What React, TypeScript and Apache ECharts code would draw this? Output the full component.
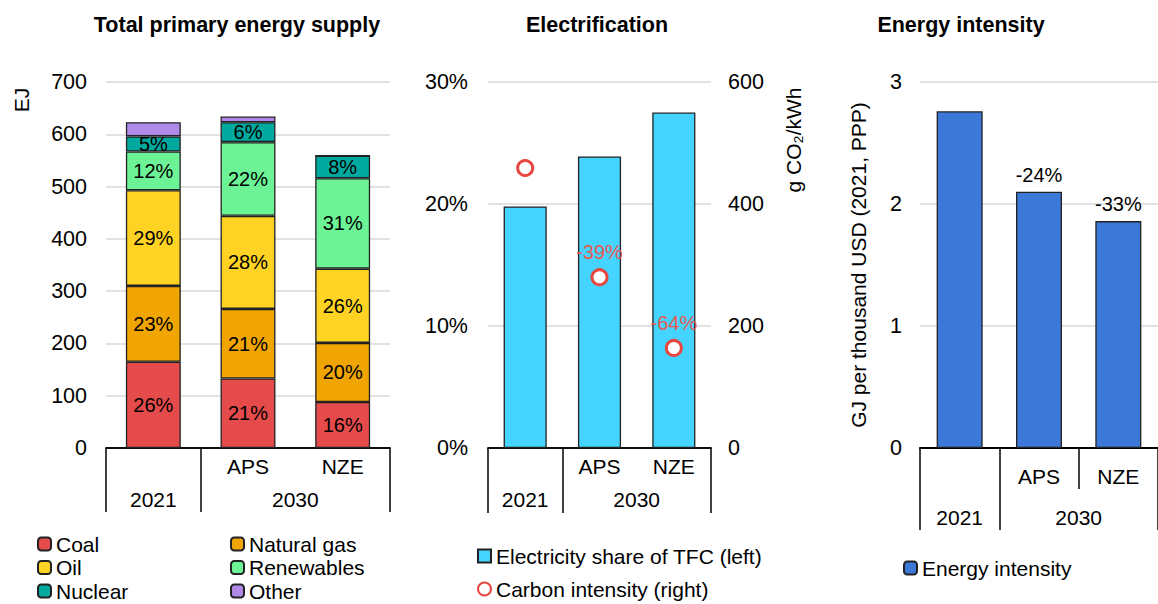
import React, { useEffect, useRef } from 'react';
import * as echarts from 'echarts';

// ---- Data ----
const scenarioLabels = ['', 'APS', 'NZE'];
const yearLabels = ['2021', '2030'];
const coal = [165, 133, 88];
const naturalGas = [145, 133, 113];
const oil = [183, 178, 142];
const renewables = [74, 141, 173];
const nuclear = [29, 38, 43];
const other = [27, 11, 0];
const coalPct = ['26%', '21%', '16%'];
const gasPct = ['23%', '21%', '20%'];
const oilPct = ['29%', '28%', '26%'];
const renPct = ['12%', '22%', '31%'];
const nucPct = ['5%', '6%', '8%'];
const electricityShare = [19.8, 23.9, 27.5];
const carbonIntensity = [459, 280, 164];
const carbonChange = ['', '-39%', '-64%'];
const energyIntensity = [2.76, 2.1, 1.86];
const intensityChange = ['', '-24%', '-33%'];

const FONT = 'Liberation Sans, Arial, sans-serif';
const FS = 21.5;      // ticks / titles
const FS_CAT = 21;    // category + legend
const FS_BAR = 20;    // labels in bars
const BORDER = '#222';
const GRID_LINE = '#d9d9d9';

function groupAxis(gridIndex: number, tickLen: number, labelMargin: number, ticks: number[], labels: number[]) {
  return {
    type: 'value',
    gridIndex,
    min: 0,
    max: 3,
    position: 'bottom',
    axisLine: { show: true, lineStyle: { color: '#000', width: 1.5 } },
    axisTick: { show: true, customValues: ticks, length: tickLen, inside: false, lineStyle: { color: '#000', width: 1.5 } },
    axisLabel: {
      show: labels.length > 0,
      customValues: labels,
      margin: labelMargin,
      color: '#000',
      fontSize: FS_CAT,
      fontFamily: FONT,
      formatter: (v: number) => (v < 1 ? yearLabels[0] : yearLabels[1]),
    },
    splitLine: { show: false },
  };
}

function scenarioAxis(gridIndex: number, margin: number) {
  return {
    type: 'category',
    gridIndex,
    data: scenarioLabels,
    axisLine: { show: true, lineStyle: { color: '#000', width: 1.5 } },
    axisTick: { show: false },
    axisLabel: { margin, color: '#000', fontSize: FS_CAT, fontFamily: FONT },
    splitLine: { show: false },
  };
}

function stackSeries(name: string, data: number[], color: string, labels: string[] | null) {
  return {
    name,
    type: 'bar',
    stack: 'tpes',
    xAxisIndex: 0,
    yAxisIndex: 0,
    barWidth: '58%',
    data,
    itemStyle: { color, borderColor: BORDER, borderWidth: 1.3 },
    label: labels
      ? {
          show: true,
          position: 'inside',
          color: '#000',
          fontSize: FS_BAR,
          fontFamily: FONT,
          formatter: (p: any) => labels[p.dataIndex],
        }
      : { show: false },
  };
}

const legendText = { color: '#000', fontSize: FS_CAT, fontFamily: FONT, lineHeight: 22 };

export default function App() {
  const ref = useRef<HTMLDivElement>(null);

  useEffect(() => {
    if (!ref.current) return;
    const chart = echarts.init(ref.current, null, { renderer: 'svg' });

    const yLabel = (margin: number, formatter?: any) => ({
      margin,
      color: '#000',
      fontSize: FS,
      fontFamily: FONT,
      formatter,
    });

    const option: any = {
      animation: false,
      backgroundColor: '#fff',
      textStyle: { fontFamily: FONT },
      grid: [
        { left: 106, top: 82, width: 284, height: 366 },
        { left: 488, top: 82, width: 223, height: 366 },
        { left: 920, top: 82, width: 242, height: 366 },
      ],
      xAxis: [
        scenarioAxis(0, 8),
        groupAxis(0, 64, 41, [0, 1, 3], [0.5, 2]),
        scenarioAxis(1, 8),
        groupAxis(1, 65, 41, [0, 1, 3], [0.5, 2]),
        scenarioAxis(2, 18),
        groupAxis(2, 82, 59, [0, 1, 3], [0.5, 2]),
        groupAxis(2, 41, 10, [2], []),
      ],
      yAxis: [
        {
          type: 'value', gridIndex: 0, min: 0, max: 700, interval: 100,
          axisLine: { show: false }, axisTick: { show: false },
          axisLabel: yLabel(19),
          splitLine: { show: true, lineStyle: { color: GRID_LINE, width: 1.5 } },
        },
        {
          type: 'value', gridIndex: 1, min: 0, max: 30, interval: 10,
          axisLine: { show: false }, axisTick: { show: false },
          axisLabel: yLabel(20, '{value}%'),
          splitLine: { show: true, lineStyle: { color: GRID_LINE, width: 1.5 } },
        },
        {
          type: 'value', gridIndex: 1, position: 'right', min: 0, max: 600, interval: 200,
          axisLine: { show: false }, axisTick: { show: false },
          axisLabel: yLabel(17),
          splitLine: { show: false },
        },
        {
          type: 'value', gridIndex: 2, min: 0, max: 3, interval: 1,
          axisLine: { show: false }, axisTick: { show: false },
          axisLabel: yLabel(18),
          splitLine: { show: true, lineStyle: { color: GRID_LINE, width: 1.5 } },
          name: 'GJ per thousand USD (2021, PPP)',
          nameLocation: 'middle',
          nameGap: 51,
          nameTextStyle: { color: '#000', fontSize: FS_CAT, fontFamily: FONT },
        },
      ],
      legend: [
        {
          orient: 'vertical', left: 37, top: 533, padding: 0, itemWidth: 13, itemHeight: 13, itemGap: 1.5,
          data: ['Coal', 'Oil', 'Nuclear'],
          textStyle: legendText,
        },
        {
          orient: 'vertical', left: 230, top: 533, padding: 0, itemWidth: 13, itemHeight: 13, itemGap: 1.5,
          data: ['Natural gas', 'Renewables', 'Other'],
          textStyle: legendText,
        },
        {
          orient: 'vertical', left: 477, top: 545, padding: 0, itemWidth: 13, itemHeight: 13, itemGap: 11,
          data: [
            { name: 'Electricity share of TFC (left)', icon: 'rect' },
            { name: 'Carbon intensity (right)', icon: 'circle' },
          ],
          textStyle: legendText,
        },
        {
          orient: 'vertical', left: 903, top: 557, padding: 0, itemWidth: 13, itemHeight: 13,
          data: ['Energy intensity'],
          textStyle: legendText,
        },
      ],
      graphic: [
        { type: 'text', x: 237, y: 25, style: { text: 'Total primary energy supply', font: `bold ${FS}px ${FONT}`, fill: '#000', textAlign: 'center', textVerticalAlign: 'middle' } },
        { type: 'text', x: 597, y: 25, style: { text: 'Electrification', font: `bold ${FS}px ${FONT}`, fill: '#000', textAlign: 'center', textVerticalAlign: 'middle' } },
        { type: 'text', x: 961, y: 25, style: { text: 'Energy intensity', font: `bold ${FS}px ${FONT}`, fill: '#000', textAlign: 'center', textVerticalAlign: 'middle' } },
        { type: 'text', x: 21, y: 100, rotation: Math.PI / 2, style: { text: 'EJ', font: `${FS_CAT}px ${FONT}`, fill: '#000', textAlign: 'center', textVerticalAlign: 'middle' } },
        { type: 'text', x: 793, y: 140, rotation: Math.PI / 2, style: { text: 'g CO₂/kWh', font: `${FS_CAT}px ${FONT}`, fill: '#000', textAlign: 'center', textVerticalAlign: 'middle' } },
      ],
      series: [
        stackSeries('Coal', coal, '#e54b4b', coalPct),
        stackSeries('Natural gas', naturalGas, '#f0a502', gasPct),
        stackSeries('Oil', oil, '#fed324', oilPct),
        stackSeries('Renewables', renewables, '#6bf395', renPct),
        stackSeries('Nuclear', nuclear, '#00a99d', nucPct),
        stackSeries('Other', other, '#b18ae9', null),
        {
          name: 'Electricity share of TFC (left)',
          type: 'bar',
          xAxisIndex: 2,
          yAxisIndex: 1,
          barWidth: '58%',
          data: electricityShare,
          itemStyle: { color: '#45d3ff', borderColor: BORDER, borderWidth: 1.3 },
        },
        {
          name: 'Carbon intensity (right)',
          type: 'scatter',
          xAxisIndex: 2,
          yAxisIndex: 2,
          symbol: 'circle',
          symbolSize: 15,
          data: carbonIntensity,
          itemStyle: { color: '#fff', borderColor: '#e8473f', borderWidth: 3, opacity: 1 },
          label: {
            show: true,
            position: 'top',
            distance: 6,
            color: '#e8594f',
            fontSize: FS_BAR,
            fontFamily: FONT,
            formatter: (p: any) => carbonChange[p.dataIndex],
          },
        },
        {
          name: 'Energy intensity',
          type: 'bar',
          xAxisIndex: 4,
          yAxisIndex: 3,
          barWidth: '58%',
          data: energyIntensity,
          itemStyle: { color: '#3c78d8', borderColor: BORDER, borderWidth: 1.3 },
          label: {
            show: true,
            position: 'top',
            distance: 7,
            color: '#000',
            fontSize: FS_BAR,
            fontFamily: FONT,
            formatter: (p: any) => intensityChange[p.dataIndex],
          },
        },
      ],
    };

    chart.setOption(option);
    return () => chart.dispose();
  }, []);

  return (
    <div
      ref={ref}
      style={{ position: 'fixed', left: 0, top: 0, width: 1158, height: 604, background: '#fff' }}
    />
  );
}
